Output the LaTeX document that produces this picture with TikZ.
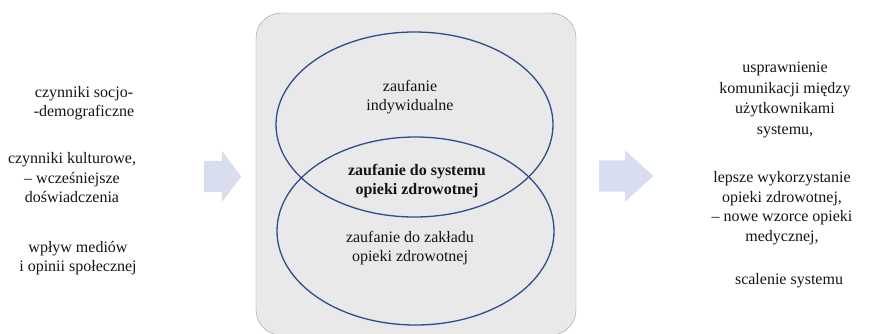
\documentclass[tikz,border=0pt]{standalone}
\usepackage{fontspec}
\setmainfont{Liberation Serif}
\newfontfamily\timesface{Liberation Serif}
\usetikzlibrary{shapes.geometric,shapes.arrows}
\definecolor{ringblue}{HTML}{2F4C8E}
\definecolor{arrowfill}{HTML}{D9DDF0}
\definecolor{boxfill}{HTML}{E9E9E9}
\definecolor{boxline}{HTML}{9C9C9C}
\tikzset{txt/.style={align=center,inner sep=0pt,text=black!92,
                     font=\timesface\fontsize{16}{19.5}\selectfont}}
\tikzset{ring/.style={ellipse,draw=ringblue,line width=1.3pt,inner sep=0pt}}
\tikzset{fatarrow/.style={single arrow,fill=arrowfill,inner xsep=0pt,
                          inner ysep=15.5pt,single arrow head extend=10pt,anchor=tail}}

\begin{document}
\begin{tikzpicture}[x=1pt,y=-1pt]
\useasboundingbox (0,0) rectangle (872,333);

% left column
\node[txt] (L1) at (84,103) {czynniki socjo-\\-demograficzne};
\node[txt] (L2) at (72,178) {czynniki kulturowe,\\– wcześniejsze\\doświadczenia};
\node[txt] (L3) at (78,258) {wpływ mediów\\i opinii społecznej};

\node[fatarrow,minimum height=37pt,single arrow tip angle=106] (A1) at (204,176.5) {};

% middle box
\node[draw=boxline,fill=boxfill,rounded corners=25pt,minimum width=320pt,minimum height=322pt] (BOX) at (416,174) {};
\node[ring,minimum width=277pt,minimum height=185pt] (E1) at (414.5,124.5) {};
\node[ring,minimum width=277pt,minimum height=188pt] (E2) at (415.5,231) {};
\node[txt] (T1) at (410,97) {zaufanie\\indywidualne};
\node[txt,font=\timesface\fontsize{16}{19.5}\selectfont\bfseries] (T2) at (417,181) {zaufanie do systemu\\opieki zdrowotnej};
\node[txt] (T3) at (410,248) {zaufanie do zakładu\\opieki zdrowotnej};

\node[fatarrow,minimum height=54pt,single arrow tip angle=85] (A2) at (599,176) {};

% right column
\node[txt,font=\timesface\fontsize{16}{20.6}\selectfont] (R1) at (785,100) {usprawnienie\\komunikacji między\\użytkownikami\\systemu,};
\node[txt] (R2) at (782,208) {lepsze wykorzystanie\\opieki zdrowotnej,\\– nowe wzorce opieki\\medycznej,};
\node[txt] (R3) at (789,281) {scalenie systemu};
\end{tikzpicture}
\end{document}
